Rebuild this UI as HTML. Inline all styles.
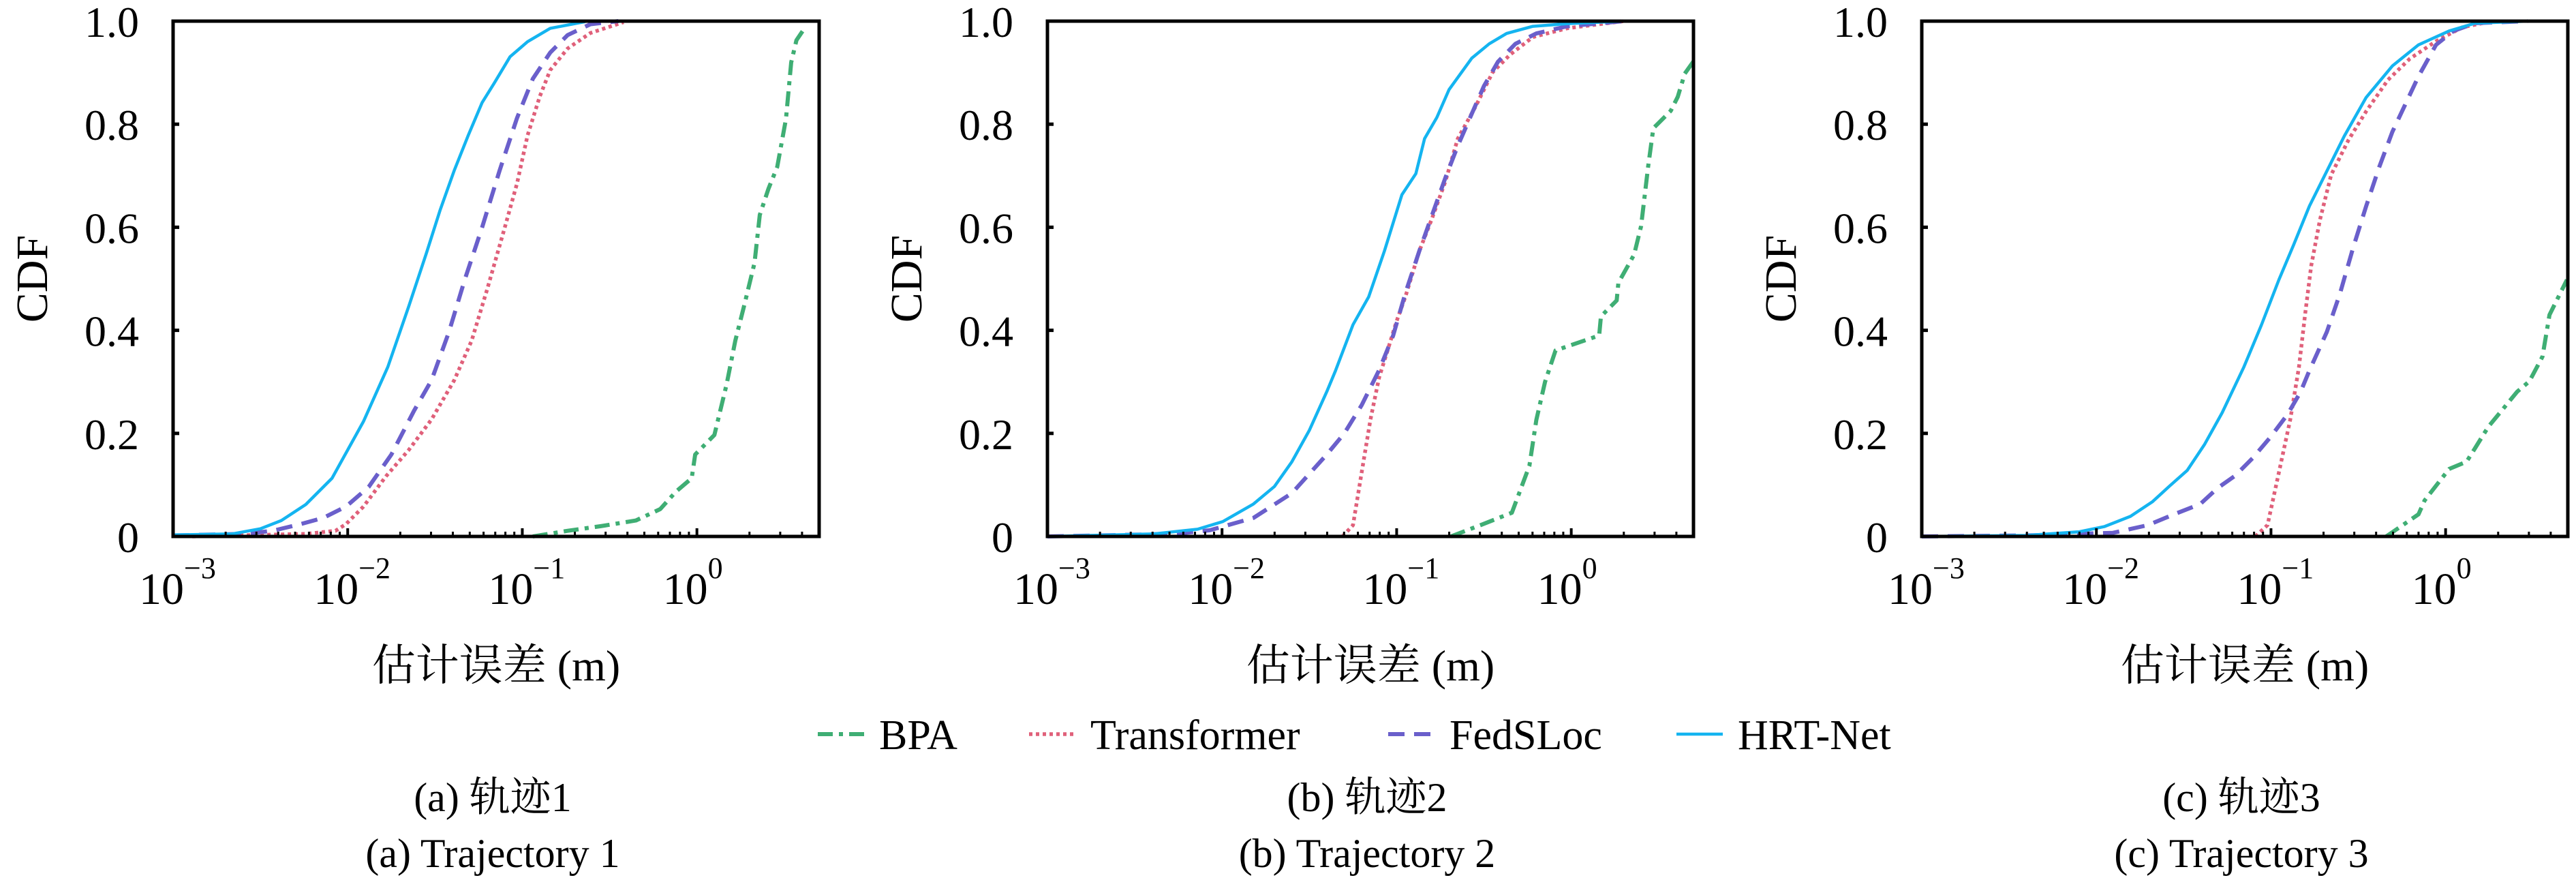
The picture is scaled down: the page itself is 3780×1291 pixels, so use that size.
<!DOCTYPE html>
<html><head><meta charset="utf-8"><style>
html,body{margin:0;padding:0;background:#fff;}
svg{display:block;}
svg text{font-family:"Liberation Serif","Noto Serif CJK SC",serif;fill:#000;}
</style></head><body>
<svg id="chart" width="3780" height="1291" viewBox="0 0 3780 1291" xmlns="http://www.w3.org/2000/svg" font-family="'Liberation Serif', 'Noto Serif CJK SC', serif"></svg>
<script>
// ---- data (x values are log10 of error in m, y values are CDF) ----
const yTicks = [0, 0.2, 0.4, 0.6, 0.8, 1.0];
const yTickLabels = ["0", "0.2", "0.4", "0.6", "0.8", "1.0"];
const xDecades = [-3, -2, -1, 0];
const seriesNames = ["BPA", "Transformer", "FedSLoc", "HRT-Net"];
const panelCaptionsZh = ["(a) 轨迹1", "(b) 轨迹2", "(c) 轨迹3"];
const panelCaptionsEn = ["(a) Trajectory 1", "(b) Trajectory 2", "(c) Trajectory 3"];

// Panel 1
const p1HrtX = [-3,-2.66,-2.50,-2.38,-2.24,-2.09,-1.91,-1.77,-1.65,-1.55,-1.47,-1.39,-1.31,-1.23,-1.16,-1.07,-0.97,-0.84,-0.64];
const p1HrtY = [0.003,0.005,0.015,0.031,0.062,0.113,0.223,0.329,0.447,0.549,0.634,0.710,0.778,0.842,0.880,0.931,0.960,0.986,0.999];
const p1FedX = [-3,-2.59,-2.43,-2.27,-2.14,-2.01,-1.88,-1.75,-1.62,-1.52,-1.42,-1.33,-1.23,-1.13,-1.03,-0.94,-0.84,-0.74,-0.61,-0.45];
const p1FedY = [0.002,0.005,0.011,0.024,0.036,0.058,0.096,0.159,0.244,0.303,0.397,0.498,0.600,0.710,0.812,0.888,0.939,0.973,0.994,1.0];
const p1TrX = [-2.89,-2.24,-2.07,-2.01,-1.91,-1.78,-1.65,-1.52,-1.39,-1.29,-1.20,-1.10,-1.03,-0.97,-0.90,-0.84,-0.74,-0.61,-0.42];
const p1TrY = [0,0.005,0.011,0.024,0.058,0.117,0.168,0.227,0.303,0.380,0.481,0.600,0.685,0.778,0.854,0.905,0.947,0.977,0.998];
const p1BpaX = [-0.94,-0.74,-0.55,-0.35,-0.21,-0.12,-0.03,-0.01,0.10,0.17,0.22,0.27,0.33,0.36,0.41,0.46,0.51,0.54,0.57,0.62];
const p1BpaY = [0,0.011,0.020,0.031,0.053,0.087,0.113,0.159,0.197,0.295,0.380,0.447,0.531,0.624,0.675,0.717,0.810,0.920,0.963,0.988];

// Panel 2
const p2HrtX = [-3,-2.39,-2.14,-1.995,-1.82,-1.70,-1.60,-1.50,-1.40,-1.35,-1.25,-1.16,-1.07,-0.97,-0.89,-0.84,-0.77,-0.70,-0.57,-0.47,-0.37,-0.22,-0.025,0.30];
const p2HrtY = [0,0.005,0.014,0.029,0.063,0.097,0.145,0.206,0.281,0.322,0.411,0.465,0.554,0.663,0.704,0.772,0.813,0.867,0.928,0.956,0.976,0.990,0.995,1];
const p2FedX = [-3,-2.27,-2.07,-1.82,-1.60,-1.40,-1.30,-1.20,-1.10,-1.02,-0.95,-0.87,-0.80,-0.72,-0.65,-0.57,-0.50,-0.42,-0.32,-0.20,-0.025,0.30];
const p2FedY = [0,0.005,0.012,0.036,0.084,0.159,0.200,0.255,0.323,0.390,0.472,0.554,0.621,0.697,0.758,0.820,0.874,0.921,0.956,0.976,0.990,1];
const p2TrX = [-1.31,-1.25,-1.20,-1.15,-1.10,-1.05,-1.00,-0.95,-0.87,-0.80,-0.72,-0.65,-0.55,-0.45,-0.35,-0.22,-0.025,0.30];
const p2TrY = [0,0.022,0.125,0.227,0.309,0.363,0.418,0.465,0.554,0.615,0.690,0.772,0.833,0.901,0.935,0.969,0.986,1];
const p2BpaX = [-0.69,-0.52,-0.34,-0.24,-0.20,-0.15,-0.09,0.16,0.17,0.26,0.27,0.36,0.40,0.44,0.47,0.57,0.61,0.65,0.70];
const p2BpaY = [0,0.022,0.046,0.137,0.226,0.300,0.361,0.390,0.427,0.458,0.492,0.547,0.602,0.717,0.792,0.826,0.853,0.898,0.922];

// Panel 3
const p3HrtX = [-3,-2.40,-2.10,-1.955,-1.805,-1.68,-1.58,-1.48,-1.38,-1.28,-1.155,-1.055,-0.955,-0.87,-0.78,-0.68,-0.58,-0.455,-0.305,-0.155,0.02,0.17,0.47];
const p3HrtY = [0,0.002,0.009,0.019,0.039,0.067,0.098,0.128,0.179,0.240,0.329,0.410,0.498,0.566,0.641,0.709,0.777,0.852,0.913,0.954,0.981,0.996,1];
const p3FedX = [-3,-2.40,-2.10,-1.905,-1.705,-1.555,-1.405,-1.305,-1.205,-1.105,-1.005,-0.905,-0.83,-0.78,-0.68,-0.605,-0.53,-0.455,-0.38,-0.305,-0.23,-0.155,-0.055,0.045,0.17,0.47];
const p3FedY = [0,0.002,0.005,0.007,0.022,0.043,0.063,0.094,0.118,0.152,0.192,0.237,0.281,0.322,0.397,0.471,0.560,0.641,0.717,0.785,0.839,0.893,0.954,0.981,0.996,1];
const p3TrX = [-1.09,-1.02,-0.955,-0.89,-0.84,-0.805,-0.77,-0.72,-0.655,-0.555,-0.455,-0.33,-0.205,-0.055,0.095,0.27];
const p3TrY = [0,0.022,0.124,0.226,0.328,0.430,0.525,0.614,0.702,0.770,0.825,0.886,0.927,0.961,0.988,1];
const p3BpaX = [-0.34,-0.155,-0.12,0.02,0.12,0.17,0.245,0.345,0.41,0.48,0.555,0.595,0.695];
const p3BpaY = [0,0.043,0.070,0.131,0.145,0.172,0.213,0.254,0.281,0.301,0.349,0.430,0.498];

const panelsData = [
  [[p1BpaX,p1BpaY],[p1TrX,p1TrY],[p1FedX,p1FedY],[p1HrtX,p1HrtY]],
  [[p2BpaX,p2BpaY],[p2TrX,p2TrY],[p2FedX,p2FedY],[p2HrtX,p2HrtY]],
  [[p3BpaX,p3BpaY],[p3TrX,p3TrY],[p3FedX,p3FedY],[p3HrtX,p3HrtY]]
];

// ---- styling / layout ----
const NS = "http://www.w3.org/2000/svg";
const svg = document.getElementById("chart");
const FONT = "'Liberation Serif', 'Noto Serif CJK SC', serif";
const styles = [
  {color:"#3fae74", dash:"22 9 6 9", w:6},
  {color:"#e0607a", dash:"5 5", w:5.5},
  {color:"#6a5fcb", dash:"24 14", w:6},
  {color:"#14b4f0", dash:"", w:4.5}
];
const panelLefts = [254, 1537, 2820];
const PW = 948, TOP = 31, BOT = 787;
const XMIN = -3, XMAX = 0.70;

function mk(tag, attrs, parent){
  const e = document.createElementNS(NS, tag);
  for (const k in attrs) e.setAttribute(k, attrs[k]);
  if (tag === "text") e.setAttribute("font-family", FONT);
  (parent||svg).appendChild(e);
  return e;
}

panelsData.forEach((series, pi) => {
  const L = panelLefts[pi], R = L + PW;
  const xs = v => L + (v - XMIN) / (XMAX - XMIN) * PW;
  const ys = v => BOT - v * (BOT - TOP);
  const g = mk("g", {});
  
  

  series.forEach((s, si) => {
    const pts = s[0].map((x, i) => xs(x).toFixed(1) + "," + ys(s[1][i]).toFixed(1)).join(" ");
    const st = styles[si];
    const pl = mk("polyline", {points: pts, fill: "none", stroke: st.color, "stroke-width": st.w, "stroke-linejoin":"round"}, g);
    if (st.dash) pl.setAttribute("stroke-dasharray", st.dash);
    
    
  });

  const fr = mk("rect", {x: L, y: TOP, width: PW, height: BOT - TOP, fill: "none", stroke: "#000", "stroke-width": 5}, g);
  
  

  yTicks.forEach((t, i) => {
    const y = ys(t);
    mk("line", {x1: L, x2: L + 9, y1: y, y2: y, stroke: "#000", "stroke-width": 5}, g);
    const tx = mk("text", {x: L - 50, y: y + 23, "text-anchor": "end", "font-size": 64}, g);
    tx.textContent = yTickLabels[i];
    
    
  });

  xDecades.forEach(d => {
    const x = xs(d);
    mk("line", {x1: x, x2: x, y1: BOT, y2: BOT - 12, stroke: "#000", "stroke-width": 4}, g);
    for (let m = 2; m <= 9; m++) {
      const lv = d + Math.log10(m);
      if (lv > XMAX) break;
      const xm = xs(lv);
      mk("line", {x1: xm, x2: xm, y1: BOT, y2: BOT - 7, stroke: "#000", "stroke-width": 3}, g);
    }
    const tx = mk("text", {x: x - 50, y: 886, "font-size": 66}, g);
    tx.textContent = "10";
    const sup = mk("tspan", {dy: -38, "font-size": 44}, tx);
    sup.textContent = (d === 0 ? "0" : "\u2212" + (-d));
    
    
  });

  const cx = (L + R) / 2;
  const xl = mk("text", {x: cx, y: 998, "text-anchor": "middle", "font-size": 64}, g);
  xl.textContent = "估计误差 (m)";
  
  
  const yl = mk("text", {x: 0, y: 0, "text-anchor": "middle", "font-size": 66, transform: "translate(" + (L - 185) + "," + ((TOP + BOT) / 2) + ") rotate(-90)"}, g);
  yl.textContent = "CDF";
  
  

  const c1 = mk("text", {x: cx - 5, y: 1190, "text-anchor": "middle", "font-size": 60}, g);
  c1.textContent = panelCaptionsZh[pi];
  
  
  const c2 = mk("text", {x: cx - 5, y: 1272, "text-anchor": "middle", "font-size": 60}, g);
  c2.textContent = panelCaptionsEn[pi];
  
  
});

const legendLineX = [1200, 1510, 2037, 2460];
const legY = 1077;
const lg = mk("g", {});


seriesNames.forEach((n, i) => {
  const st = styles[i];
  const e = mk("g", {}, lg);
  
  
  const ln = mk("line", {x1: legendLineX[i], x2: legendLineX[i] + 68, y1: legY, y2: legY, stroke: st.color, "stroke-width": st.w}, e);
  if (st.dash) ln.setAttribute("stroke-dasharray", st.dash);
  const t = mk("text", {x: legendLineX[i] + 90, y: legY + 22, "font-size": 62}, e);
  t.textContent = n;
});
</script>
</body></html>
